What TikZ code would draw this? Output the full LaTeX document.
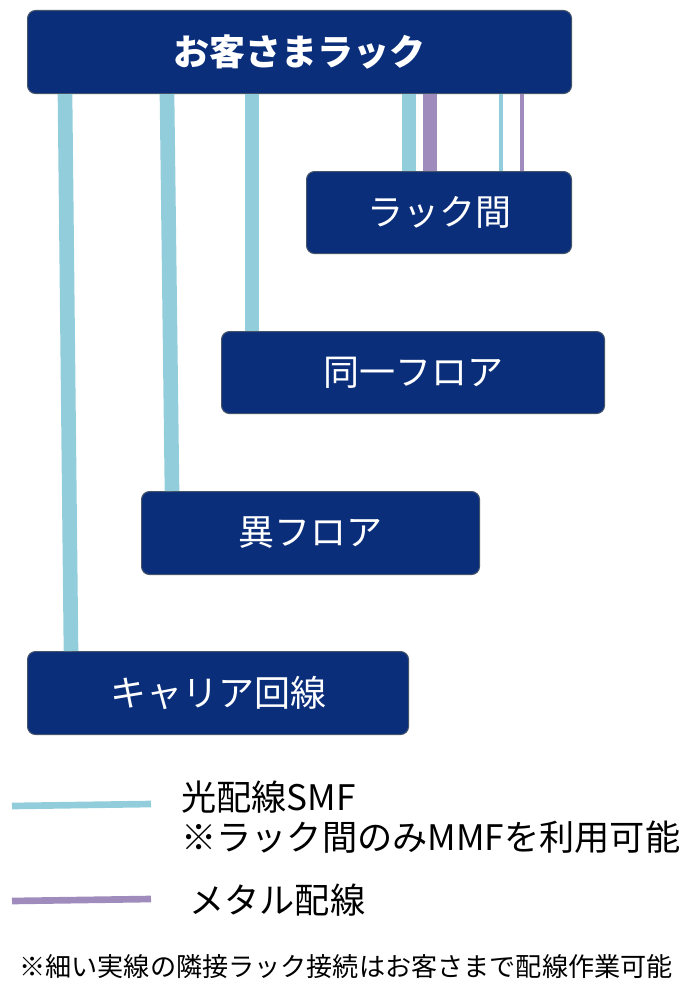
\documentclass[tikz,border=0pt]{standalone}
\usepackage{fontspec}
\setmainfont{Noto Sans CJK JP}
\usetikzlibrary{calc}
\definecolor{rackblue}{HTML}{0A2E7A}
\definecolor{rackedge}{HTML}{44546A}
\definecolor{smfblue}{HTML}{92CDDC}
\definecolor{metalpurple}{HTML}{A08CBC}
\tikzset{rackbox/.style={draw=rackedge, line width=0.8pt, fill=rackblue, rounded corners=6pt, anchor=north west, text=white, font=\fontsize{27}{30}\selectfont, inner sep=0pt},
         fiber/.style={smfblue, line width=11pt},
         fiberthin/.style={smfblue, line width=2.6pt},
         metal/.style={metalpurple, line width=11pt},
         metalthin/.style={metalpurple, line width=2.6pt},
         legendtext/.style={anchor=west, inner sep=0pt, align=left, font=\fontsize{26.4}{30}\selectfont}}

\begin{document}
\begin{tikzpicture}[x=0.75pt,y=-0.75pt]
   \useasboundingbox (0,0) rectangle (683,981);
   % racks
   \node[rackbox, minimum width=408pt,    minimum height=62.25pt] (cust)    at (27,10)  {\bfseries お客さまラック};
   \node[rackbox, minimum width=198.75pt, minimum height=61.5pt]  (rack)    at (306,171) {ラック間};
   \node[rackbox, minimum width=287.25pt, minimum height=61.5pt]  (floor)   at (221,331) {同一フロア};
   \node[rackbox, minimum width=253.5pt,  minimum height=62.25pt] (other)   at (141,491) {異フロア};
   \node[rackbox, minimum width=285.75pt, minimum height=62.25pt] (carrier) at (27,651)  {キャリア回線};
   % wiring
   \draw[fiber] ($(cust.south west)+(38,0)$)  -- ($(carrier.north west)+(44,0)$);
   \draw[fiber] ($(cust.south west)+(140,0)$) -- ($(other.north west)+(31,0)$);
   \draw[fiber] ($(cust.south west)+(225,0)$) -- ($(floor.north west)+(31,0)$);
   \draw[fiber] ($(cust.south west)+(382,0)$) -- ($(rack.north west)+(103,0)$);
   \draw[metal] ($(cust.south west)+(403,0)$) -- ($(rack.north west)+(124,0)$);
   \draw[fiberthin] ($(cust.south west)+(474,0)$) -- ($(rack.north west)+(195,0)$);
   \draw[metalthin] ($(cust.south west)+(495,0)$) -- ($(rack.north west)+(216,0)$);
   % legend
   \coordinate (smfa) at (12,806);
   \coordinate (smfb) at (151,804);
   \coordinate (meta) at (12,901);
   \coordinate (metb) at (151,899);
   \draw[smfblue, line width=5pt] (smfa) -- (smfb);
   \draw[metalpurple, line width=5pt] (meta) -- (metb);
   \node[legendtext] (smftext) at (181,817) {光配線SMF\\※ラック間のみMMFを利用可能};
   \node[legendtext] (mettext) at (189,900) {メタル配線};
   \node[anchor=center, inner sep=0pt, font=\fontsize{19.6}{24}\selectfont] (note) at (346,967) {※細い実線の隣接ラック接続はお客さまで配線作業可能};
\end{tikzpicture}
\end{document}
